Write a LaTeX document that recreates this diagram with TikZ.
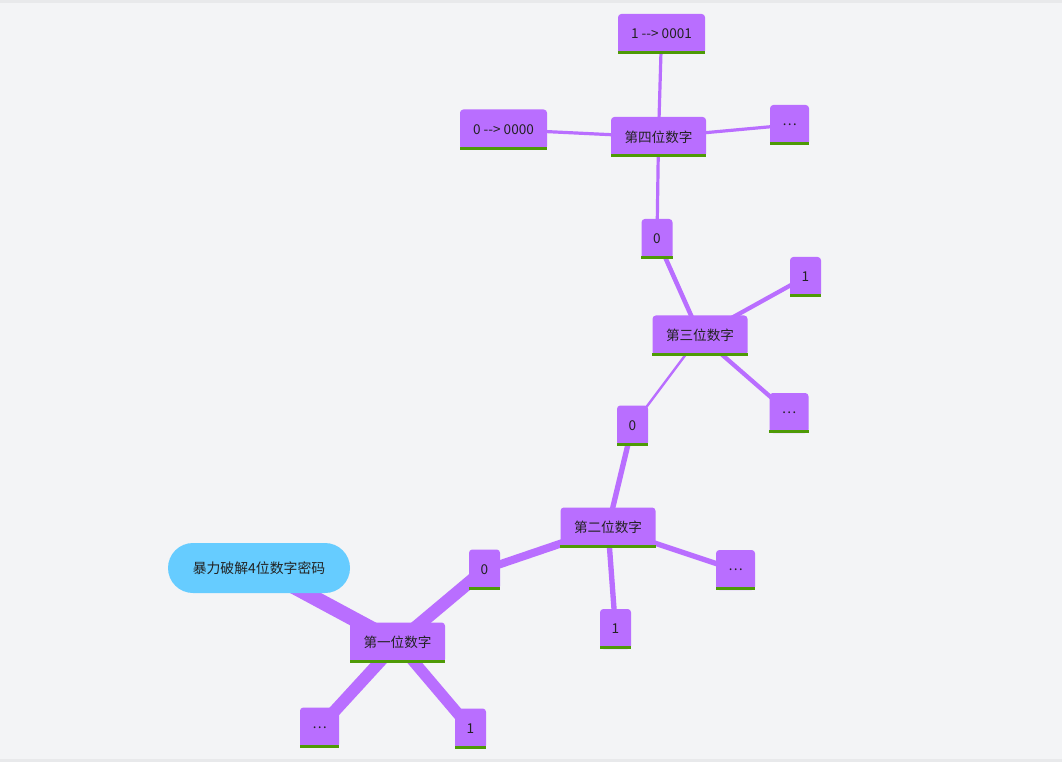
\documentclass[tikz,border=0pt]{standalone}
\usepackage{fontspec}
\setmainfont{Noto Sans CJK SC}
\definecolor{bgc}{RGB}{243,244,246}
\definecolor{bandc}{RGB}{232,233,235}
\definecolor{purp}{RGB}{185,110,255}
\definecolor{grn}{RGB}{78,154,6}
\definecolor{rootc}{RGB}{102,204,255}
\definecolor{txt}{RGB}{34,34,34}
\tikzset{
  px/.style={x=0.75pt,y=-0.75pt},
  topic/.style={fill=purp,rounded corners=2.5pt,inner sep=0pt,minimum height=30pt,
    text=txt,font=\fontsize{10.2}{12}\selectfont},
  wide/.style={topic,minimum width=71.25pt},
  dig/.style={topic,minimum width=23.25pt},
  dots/.style={topic,minimum width=29.25pt},
  arr/.style={topic,minimum width=65.25pt},
  rootn/.style={fill=rootc,rounded corners=18.75pt,minimum width=136.5pt,minimum height=37.5pt,
    inner sep=0pt,text=txt,font=\fontsize{10.4}{12}\selectfont},
  link/.style={draw=purp,line cap=butt},
}
\newcommand{\gbar}[1]{\fill[grn] (#1.south west) rectangle ([yshift=2.4pt]#1.south east);}
\begin{document}
\begin{tikzpicture}[px]
\fill[bgc] (0,0) rectangle (1062,762);
\fill[bandc] (0,0) rectangle (1062,3);
\fill[bandc] (0,759) rectangle (1062,762);
\useasboundingbox (0,0) rectangle (1062,762);
% coordinates of node centres
\coordinate (cR) at (259,568);
\coordinate (c1) at (397.5,642.5);
\coordinate (c1a) at (319.5,727.5);
\coordinate (c1b) at (470.5,728.5);
\coordinate (c1c) at (484.5,569.5);
\coordinate (c2) at (608,527.5);
\coordinate (c2a) at (615.5,629);
\coordinate (c2b) at (735.5,570);
\coordinate (c2c) at (632.5,425.5);
\coordinate (c3) at (700,335.5);
\coordinate (c3a) at (805.5,277);
\coordinate (c3b) at (789,413);
\coordinate (c3c) at (657,239);
\coordinate (c4) at (658.5,137);
\coordinate (c4a) at (503.5,129.5);
\coordinate (c4b) at (661.5,34);
\coordinate (c4c) at (789.5,125);
% edges
\draw[link,line width=11pt] (cR) -- (c1);
\draw[link,line width=9pt] (c1) -- (c1a);
\draw[link,line width=8.5pt] (c1) -- (c1b);
\draw[link,line width=9.5pt] (c1) -- (c1c);
\draw[link,line width=6pt] (c1c) -- (c2);
\draw[link,line width=4pt] (c2) -- (c2a);
\draw[link,line width=4pt] (c2) -- (c2b);
\draw[link,line width=4pt] (c2) -- (c2c);
\draw[link,line width=1.8pt] (c2c) -- (c3);
\draw[link,line width=3.2pt] (c3) -- (c3a);
\draw[link,line width=3.2pt] (c3) -- (c3b);
\draw[link,line width=3.4pt] (c3) -- (c3c);
\draw[link,line width=2.4pt] (c3c) -- (c4);
\draw[link,line width=2.4pt] (c4) -- (c4a);
\draw[link,line width=2.4pt] (c4) -- (c4b);
\draw[link,line width=2.4pt] (c4) -- (c4c);
% nodes
\node[rootn] (R) at (cR) {暴力破解4位数字密码};
\node[wide] (n1) at (c1) {第一位数字}; \gbar{n1}
\node[dots] (n1a) at (c1a) {…}; \gbar{n1a}
\node[dig] (n1b) at (c1b) {1}; \gbar{n1b}
\node[dig] (n1c) at (c1c) {0}; \gbar{n1c}
\node[wide] (n2) at (c2) {第二位数字}; \gbar{n2}
\node[dig] (n2a) at (c2a) {1}; \gbar{n2a}
\node[dots] (n2b) at (c2b) {…}; \gbar{n2b}
\node[dig] (n2c) at (c2c) {0}; \gbar{n2c}
\node[wide] (n3) at (c3) {第三位数字}; \gbar{n3}
\node[dig] (n3a) at (c3a) {1}; \gbar{n3a}
\node[dots] (n3b) at (c3b) {…}; \gbar{n3b}
\node[dig] (n3c) at (c3c) {0}; \gbar{n3c}
\node[wide] (n4) at (c4) {第四位数字}; \gbar{n4}
\node[arr] (n4a) at (c4a) {0 -{}-> 0000}; \gbar{n4a}
\node[arr] (n4b) at (c4b) {1 -{}-> 0001}; \gbar{n4b}
\node[dots] (n4c) at (c4c) {…}; \gbar{n4c}
\end{tikzpicture}
\end{document}
